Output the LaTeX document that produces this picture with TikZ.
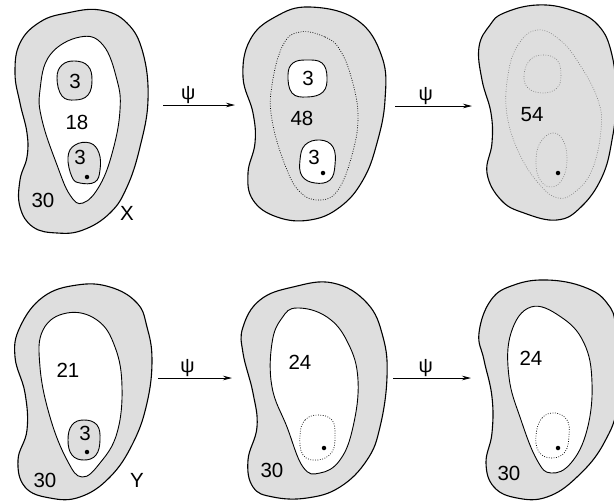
\documentclass[tikz,border=0pt]{standalone}
\usepackage{fontspec}
\setmainfont{Liberation Sans}
\usetikzlibrary{arrows.meta}
\tikzset{
  x=1pt,y=-1pt,
  blobfill/.style={fill=black!13},
  outerline/.style={draw=black,line width=1.1pt},
  innerline/.style={draw=black,line width=0.9pt},
  dotline/.style={draw=black,line width=0.7pt,dash pattern=on 0.8pt off 1.6pt},
  faintdot/.style={draw=black!50,line width=0.6pt,dash pattern=on 0.8pt off 1.6pt},
  lbl/.style={font=\fontsize{20.5}{24}\selectfont,inner sep=0pt},
  psilbl/.style={font=\fontsize{20}{24}\selectfont,inner sep=0pt,above=1pt},
  arr/.style={line width=0.8pt,-{Stealth[length=9pt,width=4.5pt]}},
  dotpt/.style={fill=black,circle,inner sep=0pt,minimum size=4.5pt}
}
\begin{document}
\begin{tikzpicture}
\useasboundingbox (0,0) rectangle (614,504);
\fill[white] (0,0) rectangle (614,504);
% ---------- top row ----------
% blob X
\path[blobfill,outerline] plot[smooth cycle,tension=0.7] coordinates {(20,43) (40,22) (67,13) (100,10) (127,23) (143,53) (148,100) (140,147) (127,187) (110,213) (83,230) (57,233) (33,227) (20,207) (20,180) (27,157) (27,133) (20,103) (15,73)};
\path[fill=white,innerline] plot[smooth cycle,tension=0.7] coordinates {(80,37) (103,45) (117,80) (120,110) (113,150) (100,185) (83,203) (70,195) (57,165) (42,120) (40,90) (50,55)};
\path[blobfill,innerline] plot[smooth cycle,tension=0.7] coordinates {(57,78) (62,65) (75,61) (88,66) (92,80) (88,95) (75,100) (62,96)};
\path[blobfill,innerline] plot[smooth cycle,tension=0.7] coordinates {(68,157) (75,145) (90,143) (99,153) (100,170) (95,182) (80,183) (72,177)};
\node[lbl] (x3a) at (75,81) {3};
\node[lbl] (x18) at (77,122) {18};
\node[lbl] (x3b) at (80,157) {3};
\node[dotpt] (xd) at (87,177) {};
\node[lbl] (x30) at (43,200) {30};
\node[lbl] (xX) at (127,213) {X};
% blob 2
\path[blobfill,outerline] plot[smooth cycle,tension=0.7] coordinates {(250,40) (275,17) (310,7) (357,20) (382,57) (385,100) (377,143) (363,180) (340,207) (310,220) (277,217) (253,200) (248,173) (255,143) (253,113) (243,77)};
\path[dotline] plot[smooth cycle,tension=0.7] coordinates {(300,32) (325,37) (340,50) (352,80) (358,117) (352,155) (338,190) (320,200) (300,192) (285,165) (272,120) (272,85) (283,45)};
\path[fill=white,innerline] plot[smooth cycle,tension=0.7] coordinates {(288,75) (293,63) (307,60) (322,63) (327,77) (323,92) (307,97) (292,93)};
\path[fill=white,innerline] plot[smooth cycle,tension=0.7] coordinates {(300,160) (305,145) (320,140) (333,147) (335,165) (330,180) (315,183) (302,176)};
\node[lbl] (m3a) at (308,78) {3};
\node[lbl] (m48) at (302,118) {48};
\node[lbl] (m3b) at (314,157) {3};
\node[dotpt] (md) at (323,173) {};
% blob 3
\path[blobfill,outerline] plot[smooth cycle,tension=0.7] coordinates {(479,47) (490,25) (504,13) (537,5) (571,10) (598,25) (612,55) (616,100) (612,140) (602,177) (581,207) (557,220) (524,213) (501,200) (487,173) (492,143) (491,113) (482,80)};
\path[faintdot] plot[smooth cycle,tension=0.7] coordinates {(537,30) (560,40) (580,65) (598,100) (601,130) (592,170) (575,192) (558,198) (540,185) (520,155) (507,115) (508,75) (518,45)};
\path[faintdot] plot[smooth cycle,tension=0.7] coordinates {(524,75) (530,60) (543,55) (557,60) (561,75) (557,88) (543,93) (528,88)};
\path[faintdot] plot[smooth cycle,tension=0.7] coordinates {(536,160) (540,143) (552,133) (563,140) (567,160) (562,180) (550,187) (539,178)};
\node[lbl] (r54) at (532,115) {54};
\node[dotpt] (rd) at (558,173) {};
% top arrows
\coordinate (ta1s) at (163,105);
\coordinate (ta1e) at (235,105);
\coordinate (ta2s) at (395,106);
\coordinate (ta2e) at (472,106);
\draw[arr] (ta1s) -- node[psilbl,pos=0.35] {ψ} (ta1e);
\draw[arr] (ta2s) -- node[psilbl,pos=0.4] {ψ} (ta2e);
% ---------- bottom row ----------
% blob Y
\path[blobfill,outerline] plot[smooth cycle,tension=0.7] coordinates {(20,327) (43,297) (77,285) (110,287) (137,303) (147,327) (152,360) (147,403) (133,443) (110,477) (80,497) (50,498) (25,487) (18,460) (27,430) (25,393) (15,357)};
\path[fill=white,innerline] plot[smooth cycle,tension=0.7] coordinates {(67,313) (97,320) (115,347) (122,387) (117,433) (100,463) (82,477) (67,460) (50,417) (40,367) (43,330)};
\path[blobfill,innerline] plot[smooth cycle,tension=0.7] coordinates {(68,440) (72,425) (84,420) (97,425) (100,440) (96,455) (84,460) (72,455)};
\node[lbl] (y21) at (68,370) {21};
\node[lbl] (y3) at (85,433) {3};
\node[dotpt] (yd) at (87,452) {};
\node[lbl] (y30) at (45,480) {30};
\node[lbl] (yY) at (137,480) {Y};
% blob bottom 2
\path[blobfill,outerline] plot[smooth cycle,tension=0.7] coordinates {(243,327) (260,300) (293,287) (333,283) (367,303) (383,337) (387,377) (380,427) (367,460) (340,487) (307,498) (273,497) (253,487) (248,460) (257,427) (253,393) (243,353)};
\path[fill=white,innerline] plot[smooth cycle,tension=0.7] coordinates {(297,308) (327,317) (348,343) (358,380) (353,427) (340,460) (320,473) (303,467) (287,427) (272,387) (272,343) (282,318)};
\path[dotline] plot[smooth cycle,tension=0.7] coordinates {(300,435) (305,420) (318,415) (332,420) (335,435) (332,452) (318,460) (303,455)};
\node[lbl] (b24) at (300,362) {24};
\node[dotpt] (bd) at (324,448) {};
\node[lbl] (b30) at (272,470) {30};
% blob bottom 3
\path[blobfill,outerline] plot[smooth cycle,tension=0.7] coordinates {(479,333) (491,300) (514,285) (547,280) (584,287) (607,303) (616,330) (618,400) (604,443) (577,477) (547,497) (517,498) (494,487) (486,463) (492,433) (492,397) (484,360)};
\path[fill=white,innerline] plot[smooth cycle,tension=0.7] coordinates {(531,307) (561,317) (584,343) (592,383) (587,430) (571,463) (551,473) (537,460) (521,420) (509,377) (511,333)};
\path[dotline] plot[smooth cycle,tension=0.7] coordinates {(536,435) (542,418) (555,413) (567,420) (569,435) (565,452) (552,458) (539,452)};
\node[lbl] (c24) at (531,358) {24};
\node[dotpt] (cd) at (558,448) {};
\node[lbl] (c30) at (509,473) {30};
% bottom arrows
\coordinate (ba1s) at (158,378);
\coordinate (ba1e) at (232,378);
\coordinate (ba2s) at (393,378);
\coordinate (ba2e) at (471,378);
\draw[arr] (ba1s) -- node[psilbl,pos=0.4] {ψ} (ba1e);
\draw[arr] (ba2s) -- node[psilbl,pos=0.42] {ψ} (ba2e);
\end{tikzpicture}
\end{document}
